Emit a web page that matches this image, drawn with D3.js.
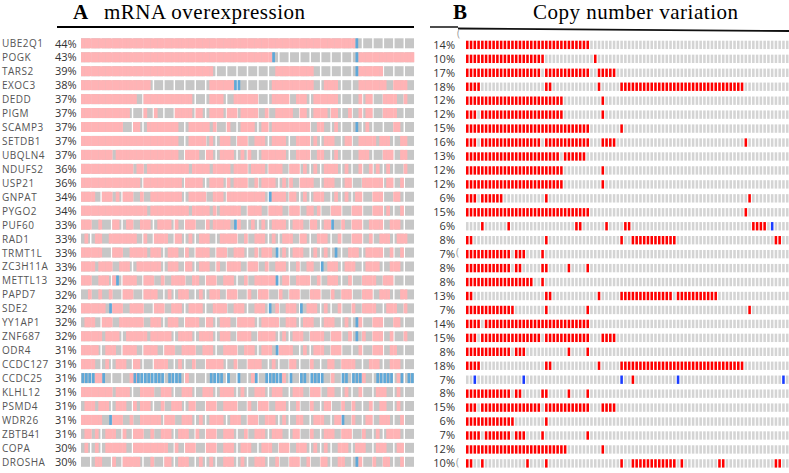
<!DOCTYPE html>
<html>
<head>
<meta charset="utf-8">
<script src="https://cdn.jsdelivr.net/npm/d3@7"></script>
<style>
  body { margin: 0; background: #fff; }
  .gene { font-family: "Open Sans", sans-serif; font-size: 10px; fill: #555; letter-spacing: 0.5px; }
  .pct { font-family: "Open Sans", sans-serif; font-size: 11px; fill: #333; }
  .title { font-family: "Liberation Serif", serif; font-size: 21px; fill: #000; }
</style>
</head>
<body>
<div id="chart"></div>
<script>
// genes, same order in both panels
const genes = ["UBE2Q1","POGK","TARS2","EXOC3","DEDD","PIGM","SCAMP3","SETDB1","UBQLN4","NDUFS2",
  "USP21","GNPAT","PYGO2","PUF60","RAD1","TRMT1L","ZC3H11A","METTL13","PAPD7","SDE2","YY1AP1",
  "ZNF687","ODR4","CCDC127","CCDC25","KLHL12","PSMD4","WDR26","ZBTB41","COPA","DROSHA"];
const pctA = ["44%","43%","39%","38%","37%","37%","37%","37%","37%","36%","36%","34%","34%","33%","33%",
  "33%","33%","32%","32%","32%","32%","32%","31%","31%","31%","31%","31%","31%","31%","30%","30%"];
const pctB = ["14%","10%","17%","18%","12%","12%","15%","16%","13%","12%","12%","6%","15%","6%","8%",
  "7%","8%","8%","13%","7%","14%","15%","8%","18%","7%","8%","15%","6%","7%","12%","10%"];

// panel A: sample runs (96 samples shown), pink = up, blue = down
const upA = [
  "0-78", "0-54 80-95", "0-37 56-66 80-86", "0-19 37-43 55-66 70-73 80-87 90-93",
  "0-15 18 19-31 37-40 44-50 55-59 62-64 67-70 71-73 80 82-83 87-90 93",
  "0-13 18 21 27-31 33-34 37-40 42-44 46-50 53 56-60 63-64 67-70 72-73 77 80 82-83 87-90",
  "0-11 15-16 19-27 31-36 38 42 46-49 52-53 55-65 68-69 73 82 90-91",
  "0-27 31-35 37 40-42 45-47 50-52 55-58 62-65 67 70-72 76-77 80-84 86-88 92-93",
  "0-8 10-27 30-33 36-37 40-43 46 48 52-58 62-65 68-69 73 80-82 87-89 92-93",
  "0-14 16-17 19-30 32-36 38-42 44-47 49-52 54-57 60-62 64 67 70-73 76 80 83 85 88 93",
  "0-16 18-28 30-34 37-40 42 44-47 50 52-55 58 60 63-66 70-72 76-77 81-86 88-89 92",
  "0-3 6-8 10 12-14 17 20-28 31-35 38-40 42-52 55-58 60-61 64 67-69 73 76 79-80 84-86 90-91",
  "0-18 20-30 32-36 38 40-45 48-51 54-57 60-62 65-66 68 72-74 78-80 84-86 88 92",
  "0-2 5 9-10 13-14 17-19 22-25 27 30-32 36 38-42 45 49 52 55-58 61-63 66-67 70-71 75 78-80 83-86 89-91",
  "1 4-5 8-15 18 21-24 27-28 31 34-36 40-44 47 50-52 55 58-60 63-64 68-70 74 78-80 83 86-88 91-93",
  "0-5 9-11 14-18 20-22 25-27 30 33-36 39-41 44-46 50 52-54 58 61-63 67 70 77-79 82-86 89 92",
  "0-3 5-8 11-13 16-22 25-27 30-31 34-36 39 42-45 48-50 53 56-58 62 65-66 71-73 76-78 82-85 89-91",
  "0-2 5-7 9 12-15 18-20 23 26-29 32-33 36-38 41-43 47 50-55 58-59 62-65 68 71-73 77 81-84 87-89",
  "2 5 8 12-14 18-21 25 28-30 34 37-39 42-44 48 51-53 57 60-62 66-68 72 75-77 81-83 86-88 92-93",
  "0-6 9-11 14-17 21-23 26-28 31-34 38-41 44-46 50-52 56 59-61 65-67 70 74 78 81-84 88-90 93",
  "1-3 6-8 11-17 20-22 25-27 30-33 36-37 40-42 45-49 52-56 59-61 64-66 70-72 76 80 84-86 90-91",
  "0-5 7-10 13-18 20-25 28-31 34-37 40-42 45-48 51-55 58 61-63 66-69 72-74 77 81 84-86 89 93",
  "0-4 7-9 12-15 18-21 24-26 29-32 35-37 41-44 47-49 52-54 57-60 64 67-69 72-74 80 84-86 89-90",
  "0-3 7 10-12 15-16 21-24 28 32 36-40 44 48-51 55 60-61 66 71-72 75-78 83-85 89-91",
  "4-5 14-15 30 49 58 72 81 91",
  "0-8 10-13 17-20 23-25 29-31 35-37 40-43 46 50-52 55-57 61-63 66-68 71-72 76 80 85-87 91",
  "1-3 5-7 10-12 15 17-19 23 26-28 31-32 36-38 41-44 48 51-53 56-58 62 66 70-71 75 78 83 86-87 91",
  "0-5 9-11 14 17-22 24-26 29-31 34 37-40 43-45 48-50 53-55 58 62-63 67-69 73-74 78 82-83 86-88 92",
  "1-2 4 7-9 12 15-17 20 23-25 28-30 33 36-38 41-43 47 50-52 55-57 61-62 66 70-72 75-77 81 85 88-91",
  "1 4 7-12 15-24 27 30-32 36-38 41-43 46-48 52-54 57-59 62-64 67 70 74-76 79-81 85-87 91-92",
  "4-5 9 12-16 20 24-25 28-30 34 37 41-43 46 50-52 56 60-62 65 69-70 74-75 80 84 87-88 92"
];
const downA = ["79", "55 79", "79", "44-45", "", "", "79", "", "", "", "", "54", "", "44 72", "",
  "56 73", "69", "10 56", "", "8 54 63", "79", "79", "56", "",
  "0-3 6 15-18 19-23 25-28 37-40 42 45 50 53-57 60 63-64 66-69 75-76 78-80 85-89 92 94-95",
  "", "", "8 75", "", "", "79"];

// panel B: copy number, 86 samples shown, red = gain, blue = loss
const gainB = ["0-32", "0-20 34", "0-19 21-32 35-39", "0-3 21-22 35 41-73", "0-25 36", "0-2 4-25 36",
  "0-32 41", "0-2 4-19 21-32 36-39 74", "0-24 26-31", "0-25 36", "0-25 36", "0-2 4-9 21 75",
  "0-32 74", "4 11 29-30 37 42-43 76-79", "0-1 21 41 44-55 82-83", "0-11 13-15 20",
  "0-11 13-14 20-21 27 32", "0-17 20", "0-1 21-22 35 41-54 56-66", "0-12 21 32 75", "0-3 5-32",
  "0-2 4-19 21-32 36-39", "0-11 13-15 27 32", "0-3 21-22 35 41-73", "44",
  "0-11 13-14 20-21 27 32", "0-2 4-19 21-32 36-39", "0-12 21", "0-3 5-11 13-15 20 32", "0-26 36",
  "0-1 4 16 21 41 44-55 57 67-68 82-83"];
const lossB = ["", "", "", "", "", "", "", "", "", "", "", "", "", "81", "", "", "", "", "", "", "", "",
  "", "", "2 15 41 56 84", "", "", "", "", "", ""];

const nA = 96, nB = 86;
const rowStep = 13.95;

function runs(str) {
  const out = [];
  str.split(" ").filter(s => s).forEach(tok => {
    const [a, b] = tok.split("-").map(Number);
    for (let i = a; i <= (b === undefined ? a : b); i++) out.push(i);
  });
  return out;
}

const width = 789, height = 473;
const svg = d3.select("#chart").append("svg").attr("width", width).attr("height", height);

// rows (range end = last row start + bar height, so step stays 13.95)
const yA = d3.scaleBand().domain(genes)
  .range([38.3, 38.3 + (genes.length - 1) * rowStep + 10]).paddingInner(0.283);
const yB = d3.scaleBand().domain(genes)
  .range([40.7, 40.7 + (genes.length - 1) * rowStep + 8.4]).paddingInner(0.4);

// columns of panel A: gray blocks and finer samples
const blocks = d3.range(nA / 3);
const xBlock = d3.scaleBand().domain(blocks).range([81, 414]).paddingInner(0.14);
const xA = d3.scaleBand().domain(d3.range(nA)).range([81, 414]);
const xB = d3.scaleBand().domain(d3.range(nB)).range([466, 466 + nB * 3.75]).paddingInner(0.32);

// titles
svg.append("text").attr("class", "title").attr("x", 73).attr("y", 19)
  .style("font-weight", "bold").text("A");
svg.append("text").attr("class", "title").attr("x", 104).attr("y", 19)
  .attr("textLength", 201).text("mRNA overexpression");
svg.append("text").attr("class", "title").attr("x", 453).attr("y", 19)
  .style("font-weight", "bold").text("B");
svg.append("text").attr("class", "title").attr("x", 533).attr("y", 19)
  .attr("textLength", 205).text("Copy number variation");

svg.append("line").attr("x1", 57).attr("x2", 414).attr("y1", 27).attr("y2", 27)
  .attr("stroke", "#000").attr("stroke-width", 2);
svg.append("line").attr("x1", 430).attr("x2", 458).attr("y1", 27).attr("y2", 27)
  .attr("stroke", "#111").attr("stroke-width", 1.5);
svg.append("line").attr("x1", 458).attr("x2", 789).attr("y1", 28.5).attr("y2", 31)
  .attr("stroke", "#111").attr("stroke-width", 1.8);

// labels
svg.selectAll(".gene").data(genes).enter().append("text")
  .attr("class", "gene").attr("x", 2)
  .attr("y", d => yA(d) + yA.bandwidth() / 2 + 4).text(d => d);
svg.selectAll(".pctA").data(genes).enter().append("text")
  .attr("class", "pct").attr("x", 55)
  .attr("y", d => yA(d) + yA.bandwidth() / 2 + 4.2).text((d, i) => pctA[i]);
svg.selectAll(".pctB").data(genes).enter().append("text")
  .attr("class", "pct").attr("x", 455).attr("text-anchor", "end")
  .attr("y", d => yB(d) + yB.bandwidth() / 2 + 3.8).text((d, i) => pctB[i]);

// little scan marks next to some percentages
[[457, 37], [456, 256], [456, 466]].forEach(m => {
  svg.append("text").attr("x", m[0]).attr("y", m[1]).attr("fill", "#999")
    .style("font-family", "Open Sans").style("font-size", "10px").text("(");
});

// panel A
const gA = svg.append("g");
genes.forEach((g, r) => {
  const row = gA.append("g");
  row.selectAll(".bg").data(blocks).enter().append("rect")
    .attr("x", d => xBlock(d)).attr("y", yA(g))
    .attr("width", xBlock.bandwidth()).attr("height", yA.bandwidth())
    .attr("fill", "#c6c6c6");
  row.selectAll(".up").data(runs(upA[r])).enter().append("rect")
    .attr("x", d => xA(d)).attr("y", yA(g))
    .attr("width", xA.bandwidth() + 0.3).attr("height", yA.bandwidth())
    .attr("fill", "#ffb3b5");
  row.selectAll(".dn").data(runs(downA[r])).enter().append("rect")
    .attr("x", d => xA(d) + 0.5).attr("y", yA(g))
    .attr("width", xA.bandwidth() - 0.8).attr("height", yA.bandwidth())
    .attr("fill", "#5fa8d8");
});

// panel B
const gB = svg.append("g");
genes.forEach((g, r) => {
  const gain = new Set(runs(gainB[r])), loss = new Set(runs(lossB[r]));
  gB.append("g").selectAll("rect").data(d3.range(nB)).enter().append("rect")
    .attr("x", d => xB(d)).attr("y", yB(g))
    .attr("width", xB.bandwidth()).attr("height", yB.bandwidth())
    .attr("fill", d => gain.has(d) ? "#ff0000" : loss.has(d) ? "#1a3cff" : "#d4d4d4");
});
</script>
</body>
</html>
